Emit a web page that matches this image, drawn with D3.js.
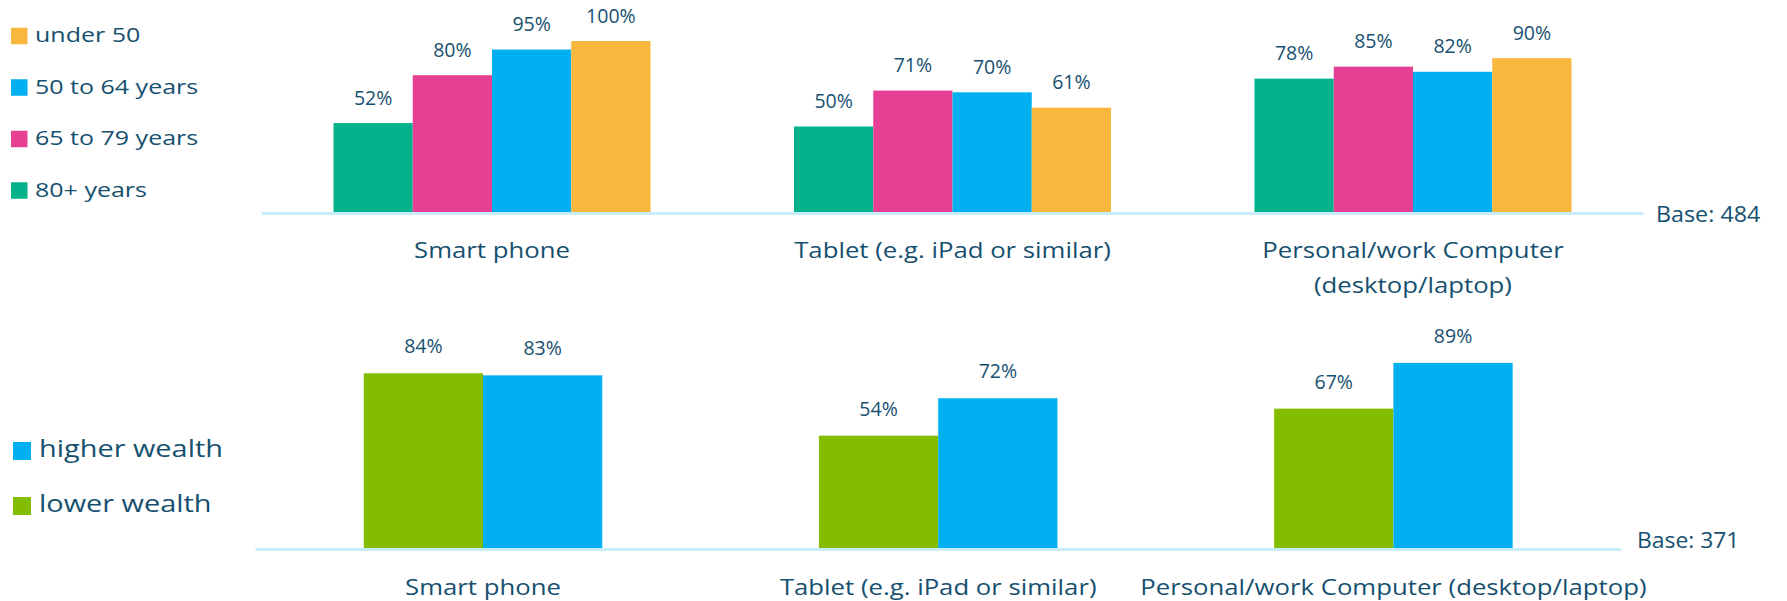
<!DOCTYPE html>
<html>
<head>
<meta charset="utf-8">
<script src="https://cdn.jsdelivr.net/npm/d3@7"></script>
<style>
  html, body { margin: 0; padding: 0; background: #ffffff; }
  svg text { font-family: "Open Sans", sans-serif; fill: #16506f; }
</style>
</head>
<body>
<svg id="chart" width="1787" height="601"></svg>
<script>
// ---- Data ----
const categoriesTop = ["Smart phone", "Tablet (e.g. iPad or similar)", "Personal/work Computer\n(desktop/laptop)"];
const ageSeries = ["80+ years", "65 to 79 years", "50 to 64 years", "under 50"];
const age80plus = [52, 50, 78];
const age65to79 = [80, 71, 85];
const age50to64 = [95, 70, 82];
const ageUnder50 = [100, 61, 90];
const ageLegendOrder = ["under 50", "50 to 64 years", "65 to 79 years", "80+ years"];
const baseTop = "Base: 484";

const categoriesBottom = ["Smart phone", "Tablet (e.g. iPad or similar)", "Personal/work Computer (desktop/laptop)"];
const wealthSeries = ["lower wealth", "higher wealth"];
const lowerWealth = [84, 54, 67];
const higherWealth = [83, 72, 89];
const wealthLegendOrder = ["higher wealth", "lower wealth"];
const baseBottom = "Base: 371";

// ---- Styles ----
const colors = {
  "80+ years": "#03b28a",
  "65 to 79 years": "#e64095",
  "50 to 64 years": "#00b0f0",
  "under 50": "#f8b83e",
  "lower wealth": "#84bd00",
  "higher wealth": "#00b0f0"
};
const axisColor = "#c8ecf9";

const svg = d3.select("#chart");

// text helper: horizontally stretched text anchored at (x, y)
function addText(parent, x, y, str, fs, sx, anchor) {
  const g = parent.append("g").attr("transform", `translate(${x},${y}) scale(${sx},1)`);
  const t = g.append("text").attr("x", 0).attr("y", 0)
    .attr("text-anchor", anchor || "start")
    .style("font-size", fs + "px");
  const lines = String(str).split("\n");
  lines.forEach((l, k) => {
    t.append("tspan").attr("x", 0).attr("dy", k === 0 ? 0 : 35).text(l);
  });
  return t;
}

function drawPanel(opts) {
  const { categories, series, values, x0r, y0, yTop, pad } = opts;
  const g = svg.append("g");
  const x0 = d3.scaleBand().domain(categories).range(x0r).paddingInner(pad).paddingOuter(pad / 2);
  const x1 = d3.scaleBand().domain(series).range([0, x0.bandwidth()]).padding(0);
  const y = d3.scaleLinear().domain([0, 100]).range([y0, yTop]);

  // axis baseline
  const axis = g.append("g").attr("transform", `translate(0,${y0 + 1.5})`)
    .call(d3.axisBottom(x0).tickSize(0).tickFormat(""));
  axis.select(".domain").attr("stroke", axisColor).attr("stroke-width", 3)
    .attr("d", `M${x0r[0]},0H${x0r[1]}`);

  const rows = [];
  categories.forEach((c, i) => {
    series.forEach((s, j) => rows.push({ c, s, v: values[j][i] }));
  });

  g.selectAll("rect.bar").data(rows).enter().append("rect")
    .attr("class", "bar")
    .attr("x", d => x0(d.c) + x1(d.s))
    .attr("y", d => y(d.v))
    .attr("width", x1.bandwidth())
    .attr("height", d => y0 - y(d.v))
    .attr("fill", d => colors[d.s]);

  rows.forEach(d => {
    addText(g, x0(d.c) + x1(d.s) + x1.bandwidth() / 2, y(d.v) - opts.labelOffset,
      d.v + "%", opts.valFs, opts.valSx, "middle");
  });

  categories.forEach(c => {
    addText(g, x0(c) + x0.bandwidth() / 2, opts.catY, c, opts.catFs, opts.catSx, "middle");
  });

  addText(g, opts.baseX, opts.baseY, opts.baseText, opts.baseFs, opts.baseSx, "start");

  // legend
  opts.legend.forEach((s, i) => {
    const cy = opts.legY0 + i * opts.legStep;
    g.append("rect").attr("x", opts.legX).attr("y", cy - opts.sq / 2)
      .attr("width", opts.sq).attr("height", opts.sq).attr("fill", colors[s]);
    addText(g, opts.legTextX, cy + opts.legBaseOff, s, opts.legFs, opts.legSx, "start");
  });
}

drawPanel({
  categories: categoriesTop,
  series: ageSeries,
  values: [age80plus, age65to79, age50to64, ageUnder50],
  x0r: [261.75, 1643.25], pad: 0.3116,
  y0: 212, yTop: 41, labelOffset: 18.5,
  valFs: 19.5, valSx: 1.0,
  catY: 258, catFs: 22, catSx: 1.17,
  baseX: 1656, baseY: 222, baseFs: 22, baseSx: 1.06, baseText: baseTop,
  legend: ageLegendOrder, legY0: 36, legStep: 51.5, legX: 11, sq: 16.5,
  legTextX: 35, legFs: 20.5, legSx: 1.22, legBaseOff: 6
});

drawPanel({
  categories: categoriesBottom,
  series: wealthSeries,
  values: [lowerWealth, higherWealth],
  x0r: [255.4, 1621], pad: 0.476,
  y0: 548, yTop: 340, labelOffset: 20,
  valFs: 19.5, valSx: 1.0,
  catY: 595, catFs: 22, catSx: 1.17,
  baseX: 1637, baseY: 548, baseFs: 22, baseSx: 1.04, baseText: baseBottom,
  legend: wealthLegendOrder, legY0: 451, legStep: 55, legX: 13, sq: 18,
  legTextX: 39, legFs: 24.5, legSx: 1.18, legBaseOff: 6
});
</script>
</body>
</html>
